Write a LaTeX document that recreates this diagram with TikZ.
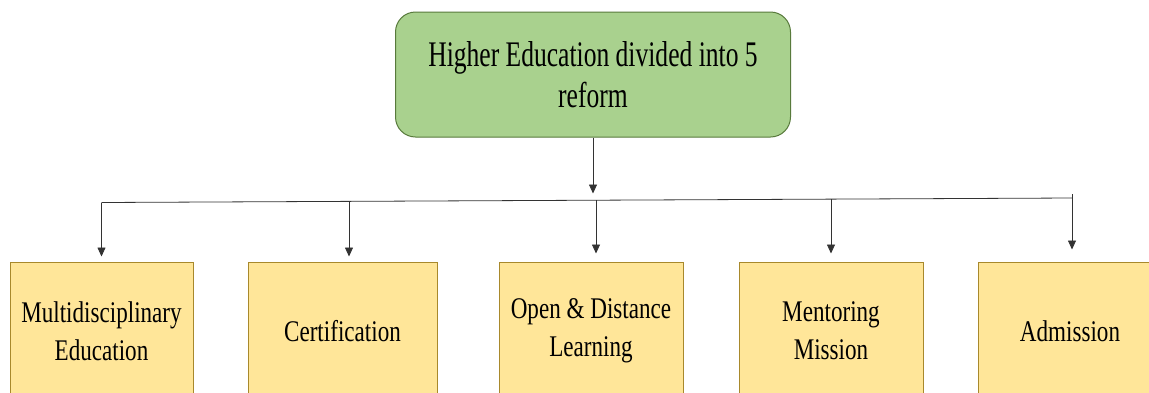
\documentclass[tikz,border=0pt]{standalone}
\usepackage{fontspec}
\setmainfont{Liberation Serif}
\newfontfamily\topfont[FakeStretch=0.71]{Liberation Serif}
\newfontfamily\botfont[FakeStretch=0.77]{Liberation Serif}
\usetikzlibrary{arrows.meta}
\definecolor{topfill}{HTML}{A9D18E}
\definecolor{topline}{HTML}{587A3C}
\definecolor{botfill}{HTML}{FFE699}
\definecolor{botline}{HTML}{A8892C}
\definecolor{wire}{HTML}{333333}
\begin{document}
\begin{tikzpicture}[x=1pt,y=-1pt,
  headbox/.style={draw=topline,fill=topfill,line width=1pt,rounded corners=20pt,
    minimum width=395pt,minimum height=125pt,inner sep=0pt,align=center,
    font=\topfont\fontsize{36}{41}\selectfont},
  leafbox/.style={draw=botline,fill=botfill,line width=1pt,
    minimum height=138pt,inner sep=0pt,align=center,
    font=\botfont\fontsize{30}{38}\selectfont},
  wireline/.style={draw=wire,line width=0.8pt},
  arr/.style={wireline,-{Triangle[width=8pt,length=9pt]}}]
\useasboundingbox (0,0) rectangle (1149,392);
\clip (0,0) rectangle (1149,392);
\fill[white] (0,0) rectangle (1149,392);

\node[headbox] (top) at (593,74.5) {Higher Education divided into 5\\reform};

\node[leafbox,minimum width=183pt] (multi) at (101.5,331) {Multidisciplinary\\Education};
\node[leafbox,minimum width=189pt] (cert) at (342.5,331) {Certification};
\node[leafbox,minimum width=184pt] (odl) at (591,331) {Open \& Distance\\Learning};
\node[leafbox,minimum width=184pt] (ment) at (831,331) {Mentoring\\Mission};
\node[leafbox,minimum width=184pt] (adm) at (1070,331) {Admission};

\coordinate (bl) at (101.5,202.5);
\coordinate (j1) at (349,201.3);
\coordinate (j2) at (596,200.2);
\coordinate (j3) at (831,199.1);
\coordinate (br) at (1072,198);
\coordinate (tick) at (1072,194);
\coordinate (topend) at (593,193.5);

\draw[arr] (top.south -| topend) -- (topend);
\draw[wireline] (bl) -- (br);
\draw[arr] (bl) -- ([yshift=5pt]multi.north -| bl);
\draw[arr] (j1) -- ([yshift=5pt]cert.north -| j1);
\draw[arr] (j2) -- ([yshift=8pt]odl.north -| j2);
\draw[arr] (j3) -- ([yshift=8pt]ment.north -| j3);
\draw[arr] (tick) -- ([yshift=12pt]adm.north -| tick);
\end{tikzpicture}
\end{document}
